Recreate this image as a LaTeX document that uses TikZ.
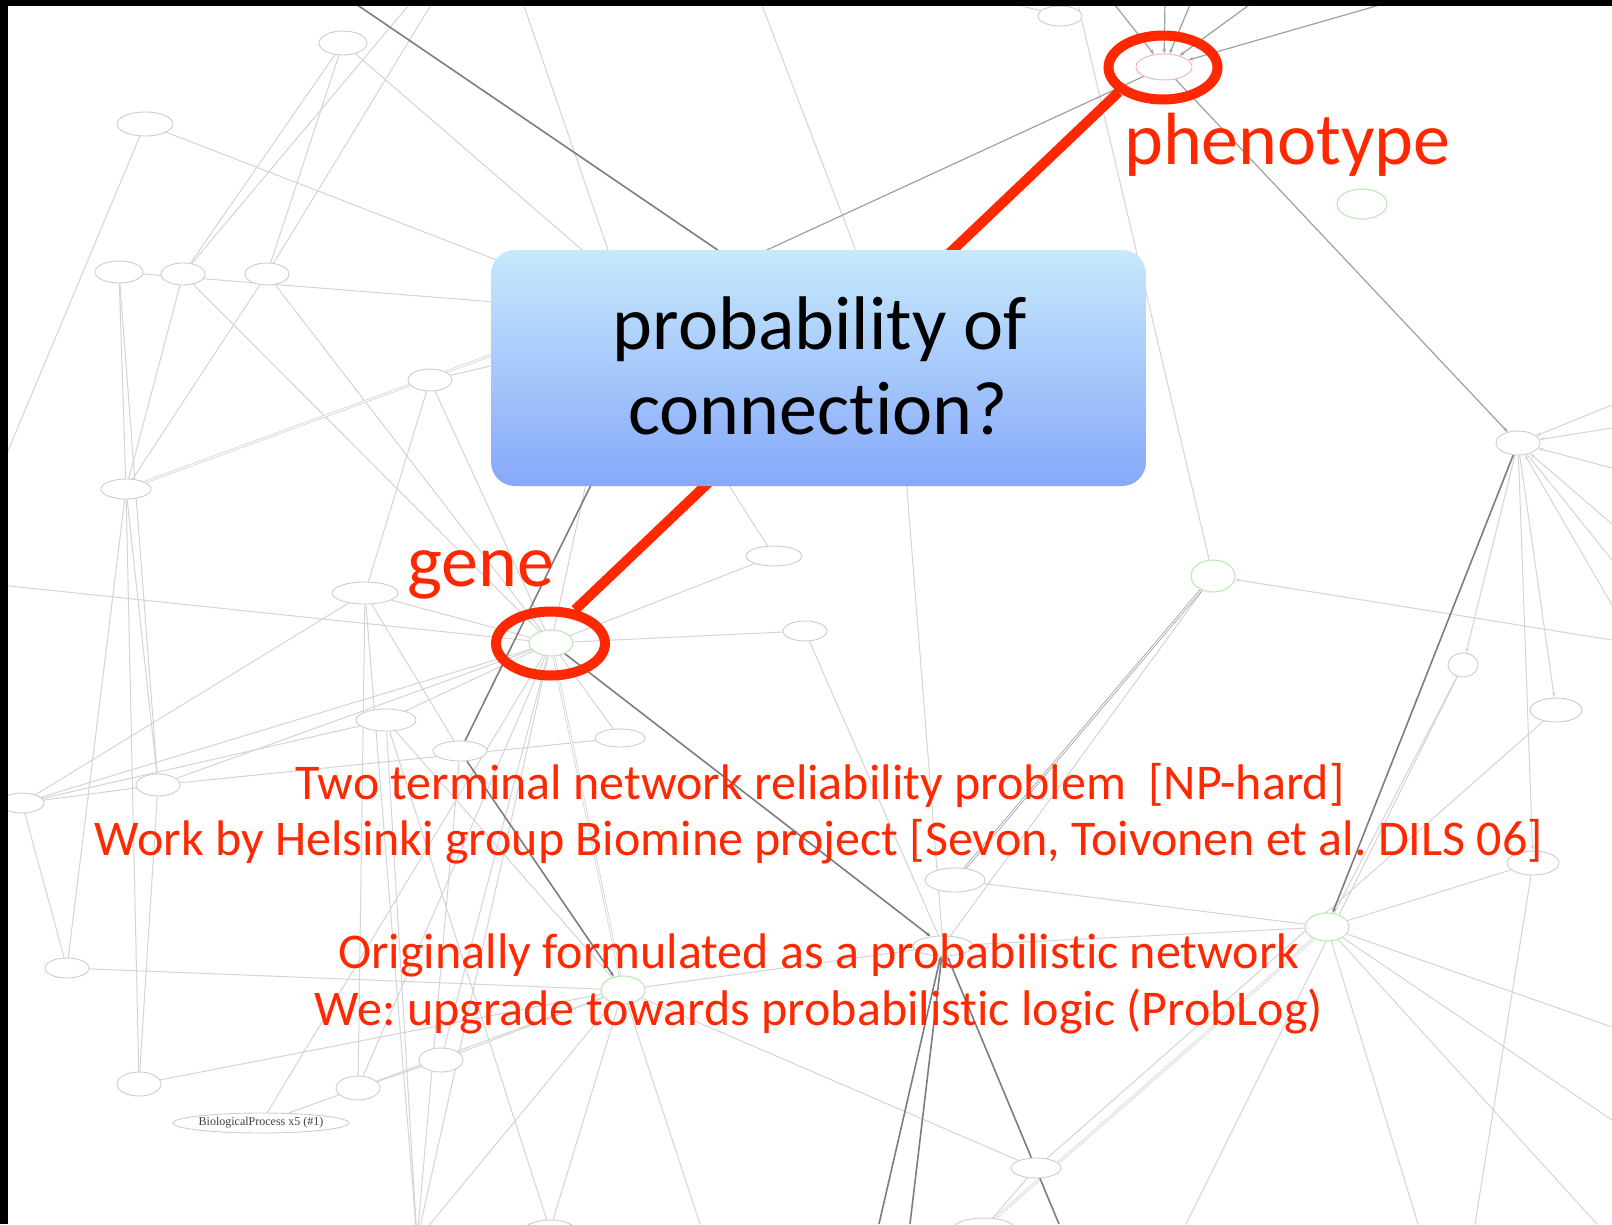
\documentclass[tikz,border=0pt]{standalone}
\usepackage{fontspec}
\setmainfont{Carlito}[Ligatures={NoCommon,NoRequired,NoContextual},Contextuals={NoAlternate}]
\newfontfamily\tagfont{Liberation Serif}
\usetikzlibrary{shapes.geometric,arrows.meta}

\definecolor{ndline}{RGB}{205,205,205}
\definecolor{ndgreen}{RGB}{185,235,178}
\definecolor{ndred}{RGB}{244,184,184}
\definecolor{edlight}{RGB}{212,212,212}
\definecolor{edmid}{RGB}{160,160,160}
\definecolor{eddark}{RGB}{125,125,125}
\definecolor{hot}{RGB}{255,40,0}
\definecolor{boxtop}{RGB}{198,233,252}
\definecolor{boxbot}{RGB}{134,168,249}

\pgfdeclarelayer{paper}
\pgfdeclarelayer{edges}
\pgfsetlayers{paper,edges,main}

% one small graph vertex: name, position, width, height
\newcommand\bnode[5][]{\node[nd,minimum width=#4,minimum height=#5,#1] (#2) at (#3) {};}
% keeps "t" and "i" as separate glyphs
\newcommand\nolig{\kern0pt}

\begin{document}
\frenchspacing
\begin{tikzpicture}[x=1pt,y=-1pt,
  nd/.style={ellipse,draw=ndline,fill=white,line width=0.9pt,inner sep=0pt},
  grn/.style={draw=ndgreen,line width=1.1pt},
  rdn/.style={draw=ndred,line width=1pt},
  lt/.style={draw=edlight,line width=1pt},
  md/.style={draw=edmid,line width=1.2pt},
  dk/.style={draw=eddark,line width=1.6pt},
  dbl/.style={double=white,double distance=1.1pt,line width=0.8pt},
  tip/.style={-{Stealth[length=5pt,width=3.5pt]}},
  ring/.style={ellipse,draw=hot,line width=10pt,inner sep=0pt,minimum width=109pt,minimum height=64pt},
  link/.style={draw=hot,line width=10pt},
  qbox/.style={rounded corners=24pt,top color=boxtop,bottom color=boxbot,minimum width=655pt,minimum height=236pt,inner sep=0pt},
  qtext/.style={font=\fontsize{76}{80}\selectfont,text=black,inner sep=0pt},
  lbl/.style={font=\fontsize{74}{80}\selectfont,text=hot,inner sep=0pt},
  btxt/.style={font=\fontsize{50}{56}\selectfont,text=hot,inner sep=0pt},
  ]
\begin{pgfonlayer}{paper}
  \fill[white] (0,0) rectangle (1612,1224);
\end{pgfonlayer}
\useasboundingbox (0,0) rectangle (1612,1224);

% ---------------- graph vertices ----------------
\bnode{A}{343,43}{48}{24}
\bnode{B}{145,124}{56}{24}
\bnode{C}{119,272}{48}{22}
\bnode{D}{183,274}{44}{22}
\bnode{E}{267,274}{44}{22}
\bnode{F}{430,380}{44}{22}
\bnode{T0}{1060,16}{44}{20}
\bnode[rdn]{ph}{1164,67}{56}{26}
\bnode[grn]{g1}{1362,204}{50}{30}
\bnode{hub}{1518,443}{44}{24}
\bnode[grn]{g2}{1213,576}{44}{32}
\bnode{I}{1463,665}{30}{24}
\bnode{J}{1556,710}{52}{24}
\bnode[grn]{g3}{1327,927}{44}{28}
\bnode{L}{1533,863}{52}{24}
\bnode{M}{955,880}{60}{24}
\bnode{N}{943,946}{60}{20}
\bnode[grn]{g4}{623,990}{44}{28}
\bnode{P}{1036,1168}{50}{20}
\bnode{Q}{984,1228}{60}{20}
\bnode{R}{550,1230}{50}{20}
\bnode{S}{67,968}{44}{20}
\bnode{Tn}{139,1084}{44}{24}
\bnode{U}{358,1088}{44}{24}
\bnode{V}{441,1060}{44}{24}
\bnode{W}{417,1240}{44}{20}
\bnode{X}{126,489}{50}{20}
\bnode{Y}{365,593}{66}{22}
\bnode{Z}{158,785}{44}{22}
\bnode{AA}{22,803}{44}{20}
\bnode{BB}{386,720}{60}{22}
\bnode{CC}{460,751}{54}{20}
\bnode[grn]{gn}{551,643}{44}{26}
\bnode{K1}{805,631}{44}{20}
\bnode{K2}{774,556}{56}{20}
\bnode{K3}{620,738}{50}{18}
\node[nd,minimum width=121pt,minimum height=20pt,font=\fontsize{12}{13}\selectfont\tagfont,text=black!75] (bp) at (261,1123) {BiologicalProcess x5 (\#1)};

% free ends of edges: picture border and points under the box
\coordinate (t1) at (350,0);   \coordinate (t2) at (413,0);
\coordinate (t3) at (434,0);   \coordinate (t4) at (522,0);
\coordinate (t5) at (760,0);   \coordinate (t6) at (1077,0);
\coordinate (t7) at (1111,0);  \coordinate (t8) at (1165,0);
\coordinate (t9) at (1192,0);  \coordinate (t10) at (1256,0);
\coordinate (t11) at (1397,0); \coordinate (t12) at (1000,0);
\coordinate (r1) at (1612,405); \coordinate (r2) at (1612,428);
\coordinate (r3) at (1612,468); \coordinate (r4) at (1612,524);
\coordinate (r5) at (1612,605); \coordinate (r6) at (1612,640);
\coordinate (r7) at (1612,1027); \coordinate (r8) at (1612,1120);
\coordinate (r9) at (1612,560);
\coordinate (b1) at (879,1224); \coordinate (b2) at (910,1224);
\coordinate (b3) at (1059,1224); \coordinate (b4) at (1186,1224);
\coordinate (b5) at (1418,1224); \coordinate (b6) at (1475,1224);
\coordinate (b7) at (1597,1224); \coordinate (b8) at (700,1224);
\coordinate (l1) at (0,470);  \coordinate (l2) at (0,585);
\coordinate (hA) at (640,300); \coordinate (hB) at (650,372);
\coordinate (hC) at (890,340); \coordinate (hD) at (600,300);
\coordinate (hE) at (620,312); \coordinate (hF) at (560,350);
\coordinate (hG) at (560,330); \coordinate (hK) at (800,306);
\coordinate (hL) at (680,290); \coordinate (hN) at (623,420);
\coordinate (hP) at (900,400); \coordinate (hQ) at (600,420);
\coordinate (hR) at (700,440);

% ---------------- graph edges ----------------
\begin{pgfonlayer}{edges}
  \foreach \a/\b in {A/D,A/E,A/hA,t2/D,t3/E,t4/hB,t5/hC,t6/g2,B/hD,B/l1,
      C/hE,D/gn,E/gn,C/Z,D/X,E/X,C/X,F/hF,F/Y,F/gn,X/Z,X/Tn,X/S,l2/gn,
      Y/AA,Y/CC,Y/gn,Y/U,Z/AA,Z/gn,Z/K3,AA/gn,AA/BB,BB/gn,BB/W,BB/R,
      gn/K1,gn/K2,gn/K3,gn/W,gn/V,gn/U,gn/hQ,K2/hR,K1/N,
      hub/r9,I/b4,J/P,g2/N,g3/N,g3/M,g3/L,g3/I,g3/b5,g3/r7,g3/r8,g3/b7,
      L/b6,g4/N,g4/S,g4/Tn,g4/V,g4/P,g4/R,g4/U,g4/BB,g4/b8,P/Q,
      bp/U,bp/gn,U/V,W/g4,W/Y,W/CC,Z/Tn,hP/N,T0/t12,S/AA}
    \draw[lt] (\a) -- (\b);
  \foreach \a/\b in {r1/hub,r2/hub,r3/hub,r4/hub,r5/hub,r6/g2,
      hub/I,hub/L,hub/J}
    \draw[lt,tip] (\a) -- (\b);
  \draw[lt,dbl] (X) -- (hG);
  \draw[lt,dbl] (g3) -- (Q);
  \draw[lt,dbl] (g4) -- (gn);
  \foreach \a in {t7,t8,t9,t10}
    \draw[md,tip] (\a) -- (ph);
  \draw[md,tip] (t11) -- (ph);
  \draw[md] (ph) -- (hL);
  \draw[md,tip] (ph) -- (hub);
  \draw[dk] (t1) -- (hK);
  \draw[dk,tip] (hub) -- (g3);
  \draw[md,dbl] (M) -- (g2);
  \draw[dk,tip] (gn) -- (N);
  \draw[dk] (hN) -- (CC);
  \draw[dk,tip] (CC) -- (g4);
  \foreach \b in {b1,b2,b3}
    \draw[dk,tip] (\b) -- (N);
\end{pgfonlayer}

% ---------------- highlighted query ----------------
\node[ring] (gering) at (550.5,643.5) {};
\node[ring] (phring) at (1163,67.5) {};
\draw[link] (gering.54) -- (phring.209);

\node[qbox] (q) at (818.5,368) {};
\node[qtext,anchor=base] (q1) at (820,349.5) {probability of};
\node[qtext,anchor=base] (q2) at (818,434) {connect\nolig ion?};

\node[lbl,anchor=base west] (phl) at (1124,164.5) {phenotype};
\node[lbl,anchor=base west] (gel) at (407,586) {gene};

\node[btxt,anchor=base] (s1) at (820,799) {Two terminal network reliability problem\ \ [NP-hard]};
\node[btxt,anchor=base] (s2) at (819,855) {Work by Helsinki group Biomine project [Sevon, Toivonen et al. DILS 06]};
\node[btxt,anchor=base] (s3) at (819,968) {Originally formulated as a probabilist\nolig ic network};
\node[btxt,anchor=base] (s4) at (819,1025) {We: upgrade towards probabilist\nolig ic logic (ProbLog)};

% dark frame edges
\fill[black] (0,0) rectangle (8,1224);
\fill[black] (0,0) rectangle (1612,6);
\end{tikzpicture}
\end{document}
